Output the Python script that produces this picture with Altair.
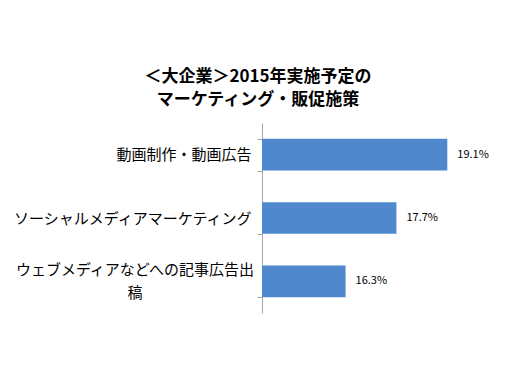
import altair as alt
import pandas as pd

categories = ["動画制作・動画広告", "ソーシャルメディアマーケティング",
              "ウェブメディアなどへの記事広告出|稿"]
values = [19.1, 17.7, 16.3]
value_labels = ["19.1%", "17.7%", "16.3%"]
axis_min = 14

df = pd.DataFrame({"cat": categories, "val": values, "lab": value_labels})

FONT = "Noto Sans CJK JP"

y = alt.Y("cat:N", sort=categories, title=None,
          scale=alt.Scale(paddingInner=0.5, paddingOuter=0.25),
          axis=alt.Axis(labelExpr="indexof(datum.label, '|') >= 0 ? '' : datum.label",
                        labelFont=FONT, labelFontSize=15, labelColor="#000000",
                        labelPadding=6, labelLimit=300,
                        domainColor="#a6a6a6", tickColor="#a6a6a6", tickSize=5,
                        tickBand="extent", grid=False))
x = alt.X("val:Q", title=None, scale=alt.Scale(domain=[axis_min, 20], zero=False, nice=False),
          axis=None)

base = alt.Chart(df)
bars = base.mark_bar(color="#4F88CC").encode(x=x, x2=alt.datum(axis_min), y=y)
text = base.mark_text(align="left", dx=10, font=FONT, fontSize=11,
                      color="#000000").encode(x=x, y=y, text="lab:N")
# wrapped category label (centered multi-line, as in the reference)
wrapped_label = base.transform_filter("indexof(datum.cat, '|') >= 0").mark_text(
    align="center", baseline="middle", lineBreak="|", lineHeight=23, dy=-11,
    font=FONT, fontSize=15, color="#000000"
).encode(x=alt.value(-127), y=alt.Y("cat:N", sort=categories), text="cat:N")

chart = (bars + text + wrapped_label).properties(
    width=218, height=190,
    title=alt.TitleParams(["＜大企業＞2015年実施予定の", "マーケティング・販促施策"],
                          font=FONT, fontSize=17, fontWeight="bold", color="#000000",
                          anchor="middle", dx=-113, offset=7, lineHeight=23),
    autosize=alt.AutoSizeParams(type="none"),
    padding={"left": 254, "top": 115, "right": 20, "bottom": 50},
).configure_view(stroke=None)

chart.save("out.html", embed_options={"renderer": "svg", "actions": False})
